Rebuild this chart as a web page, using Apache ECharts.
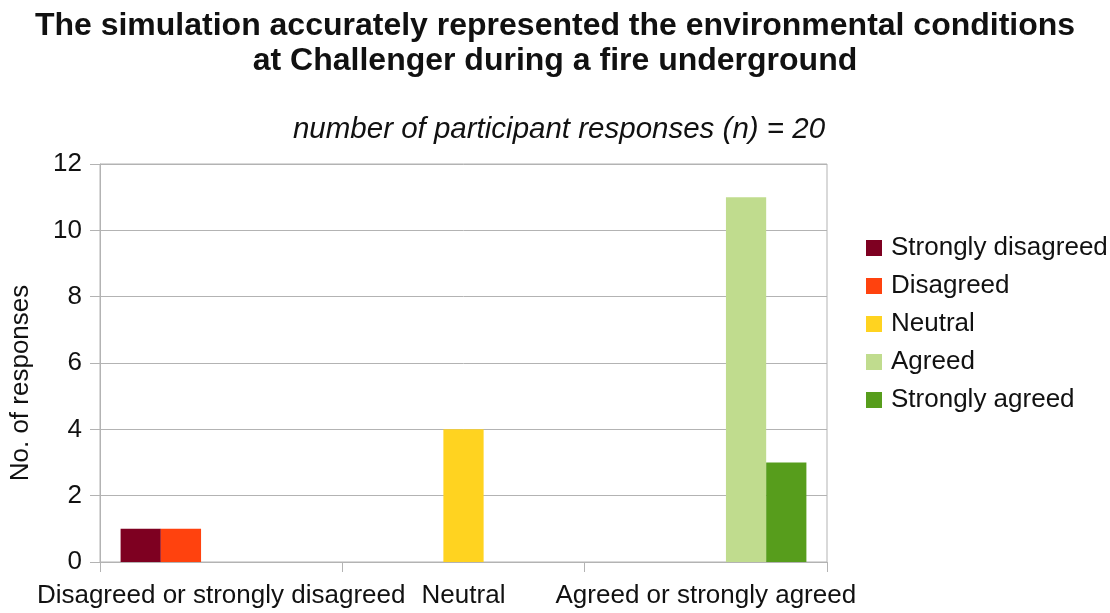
<!DOCTYPE html>
<html>
<head>
<meta charset="utf-8">
<script src="https://cdn.jsdelivr.net/npm/echarts@6/dist/echarts.min.js"></script>
<style>
  html, body { margin: 0; padding: 0; background: #fff; }
  #chart { width: 1110px; height: 613px; }
</style>
</head>
<body>
<div id="chart"></div>
<script>
// Response groups along the x axis
const categories = ['Disagreed or strongly disagreed', 'Neutral', 'Agreed or strongly agreed'];

// Responses per answer, one value per group (null = not in that group)
const stronglyDisagreed = [1, null, null];
const disagreed         = [1, null, null];
const neutral           = [null, 4, null];
const agreed            = [null, null, 11];
const stronglyAgreed    = [null, null, 3];

const seriesNames = ['Strongly disagreed', 'Disagreed', 'Neutral', 'Agreed', 'Strongly agreed'];
const seriesData = [stronglyDisagreed, disagreed, neutral, agreed, stronglyAgreed];
const seriesColors = ['#7e0021', '#ff420e', '#ffd320', '#c0dc8e', '#579d1c'];

const font = '"Liberation Sans", Arial, sans-serif';
const chart = echarts.init(document.getElementById('chart'));

chart.setOption({
  animation: false,
  textStyle: { fontFamily: font, color: '#000' },
  title: [
    {
      text: 'The simulation accurately represented the environmental conditions\nat Challenger during a fire underground',
      left: 550, top: 4,
      textAlign: 'center',
      textStyle: { fontFamily: font, fontSize: 32, fontWeight: 'bold', lineHeight: 35, color: '#111' }
    },
    {
      text: 'number of participant responses (n) = 20',
      left: 554, top: 110,
      textAlign: 'center',
      textStyle: { fontFamily: font, fontSize: 29.5, fontStyle: 'italic', fontWeight: 'normal', color: '#111' }
    }
  ],
  legend: {
    orient: 'vertical',
    left: 861, top: 228,
    itemWidth: 16, itemHeight: 16, itemGap: 8,
    icon: 'rect',
    textStyle: { fontFamily: font, fontSize: 26, lineHeight: 30, color: '#111', padding: [0, 0, 0, 4] },
    data: seriesNames
  },
  grid: {
    left: 100, top: 164, right: 283, bottom: 51,
    show: true, borderColor: '#b3b3b3', borderWidth: 1
  },
  xAxis: {
    type: 'category',
    data: categories,
    axisLine: { lineStyle: { color: '#b3b3b3' } },
    axisTick: { show: true, length: 10, alignWithLabel: false, lineStyle: { color: '#b3b3b3' } },
    axisLabel: { fontFamily: font, fontSize: 26, color: '#111', margin: 21, interval: 0 }
  },
  yAxis: {
    type: 'value',
    min: 0, max: 12, interval: 2,
    name: 'No. of responses',
    nameLocation: 'middle',
    nameGap: 66,
    nameRotate: 90,
    nameTextStyle: { fontFamily: font, fontSize: 26, color: '#111', padding: [0, 40, 0, 0] },
    axisLine: { show: true, lineStyle: { color: '#b3b3b3' } },
    axisTick: { show: true, length: 10, lineStyle: { color: '#b3b3b3' } },
    axisLabel: { fontFamily: font, fontSize: 26, color: '#111', margin: 18 },
    splitLine: { lineStyle: { color: '#b3b3b3' } }
  },
  series: seriesNames.map((name, i) => ({
    name: name,
    type: 'bar',
    data: seriesData[i],
    barGap: '0%',
    barCategoryGap: '17%',
    itemStyle: { color: seriesColors[i] }
  }))
});
</script>
</body>
</html>
